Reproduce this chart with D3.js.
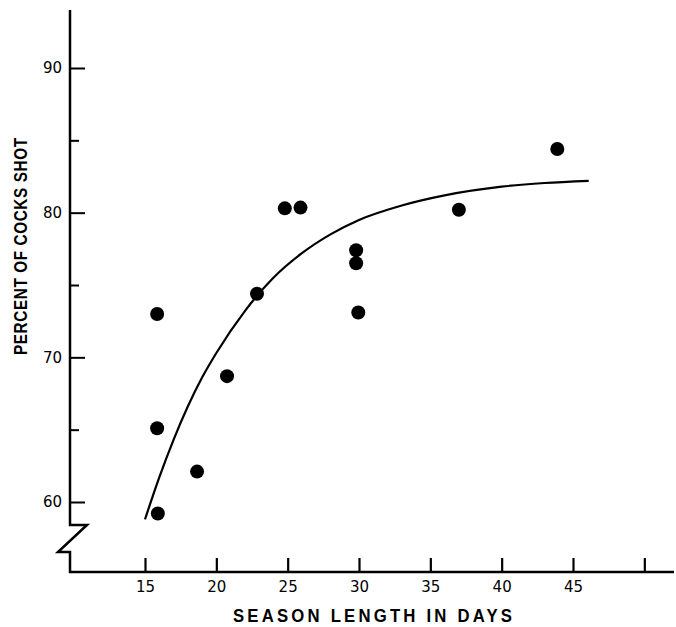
<!DOCTYPE html>
<html>
<head>
<meta charset="utf-8">
<script src="https://cdn.jsdelivr.net/npm/d3@7"></script>
<style>
  body { margin: 0; background: #fff; }
  svg { display: block; }
  text { fill: #000; }
</style>
</head>
<body>
<div id="chart"></div>
<script>
// Season length (days) and percent of cocks shot
const seasonDays = [15.85, 15.85, 15.9, 18.65, 20.75, 22.85, 24.8, 25.9, 29.8, 29.8, 29.95, 37.0, 43.9];
const percentShot = [73.0, 65.1, 59.2, 62.1, 68.7, 74.4, 80.3, 80.35, 77.4, 76.5, 73.1, 80.2, 84.4];

// Fitted curve, points
const curveDays = [15, 16, 17, 18, 19, 20, 22, 24, 26, 28, 30, 33, 36, 40, 43, 46.1];
const curvePercent = [58.8, 61.7, 64.3, 66.6, 68.6, 70.3, 73.2, 75.5, 77.2, 78.5, 79.5, 80.5, 81.2, 81.8, 82.05, 82.2];

// Axis ticks
const xTicks = [15, 20, 25, 30, 35, 40, 45, 50];
const xTickLabels = ["15", "20", "25", "30", "35", "40", "45", ""];
const yMajorTicks = [60, 70, 80, 90];
const yMinorTicks = [65, 75, 85];

const width = 676, height = 627;
const originX = 70, originY = 572;
const tickFont = "'DejaVu Sans', sans-serif";
const titleFont = "'Liberation Sans', Arial, sans-serif";

const svg = d3.select("#chart").append("svg")
    .attr("width", width)
    .attr("height", height);

const x = d3.scaleLinear().domain([15, 45]).range([145, 573]);
const y = d3.scaleLinear().domain([60, 90]).range([502, 68]);

// X axis, ticks pointing up
const xAxis = svg.append("g")
    .attr("transform", `translate(0,${originY})`)
    .call(d3.axisBottom(x)
        .tickValues(xTicks)
        .tickSize(-14)
        .tickPadding(9)
        .tickFormat((d, i) => xTickLabels[i]))
    .attr("font-family", tickFont)
    .attr("font-size", 15);
xAxis.select(".domain").remove();
xAxis.selectAll(".tick line").attr("stroke-width", 2.2);
xAxis.selectAll("text").attr("dy", "0.7em");

// Y axis, ticks pointing inward
const yAxis = svg.append("g")
    .attr("transform", `translate(${originX},0)`)
    .call(d3.axisLeft(y)
        .tickValues(yMajorTicks)
        .tickSize(-15)
        .tickPadding(8))
    .attr("font-family", tickFont)
    .attr("font-size", 15);
yAxis.select(".domain").remove();
yAxis.selectAll(".tick line").attr("stroke-width", 2);

const yMinor = svg.append("g")
    .attr("transform", `translate(${originX},0)`)
    .call(d3.axisLeft(y)
        .tickValues(yMinorTicks)
        .tickSize(-9)
        .tickFormat(""));
yMinor.select(".domain").remove();
yMinor.selectAll(".tick line").attr("stroke-width", 2);

// Axis lines with the break on the y axis
svg.append("path")
    .attr("d", `M${originX},10 V525 L87,525 L58,552 L${originX},552 V${originY} H674`)
    .attr("fill", "none")
    .attr("stroke", "#000")
    .attr("stroke-width", 2.5)
    .attr("stroke-linejoin", "miter");

// Curve
const line = d3.line()
    .x((d, i) => x(d))
    .y((d, i) => y(curvePercent[i]))
    .curve(d3.curveMonotoneX);

svg.append("path")
    .datum(curveDays)
    .attr("d", line)
    .attr("fill", "none")
    .attr("stroke", "#000")
    .attr("stroke-width", 2.2);

// Points
svg.append("g").selectAll("circle")
    .data(seasonDays)
    .enter().append("circle")
    .attr("cx", d => x(d))
    .attr("cy", (d, i) => y(percentShot[i]))
    .attr("r", 7)
    .attr("fill", "#000");

// Axis titles (letters are narrow in the original, so squeeze them)
svg.append("text")
    .attr("transform", "translate(233,622) scale(0.88,1)")
    .attr("font-family", titleFont)
    .attr("font-size", 19)
    .attr("font-weight", "bold")
    .attr("textLength", 279 / 0.88)
    .attr("lengthAdjust", "spacing")
    .text("SEASON LENGTH IN DAYS");

svg.append("text")
    .attr("transform", "translate(27,355) rotate(-90) scale(0.85,1)")
    .attr("font-family", titleFont)
    .attr("font-size", 18)
    .attr("font-weight", "bold")
    .attr("textLength", 217 / 0.85)
    .attr("lengthAdjust", "spacing")
    .text("PERCENT OF COCKS SHOT");
</script>
</body>
</html>
